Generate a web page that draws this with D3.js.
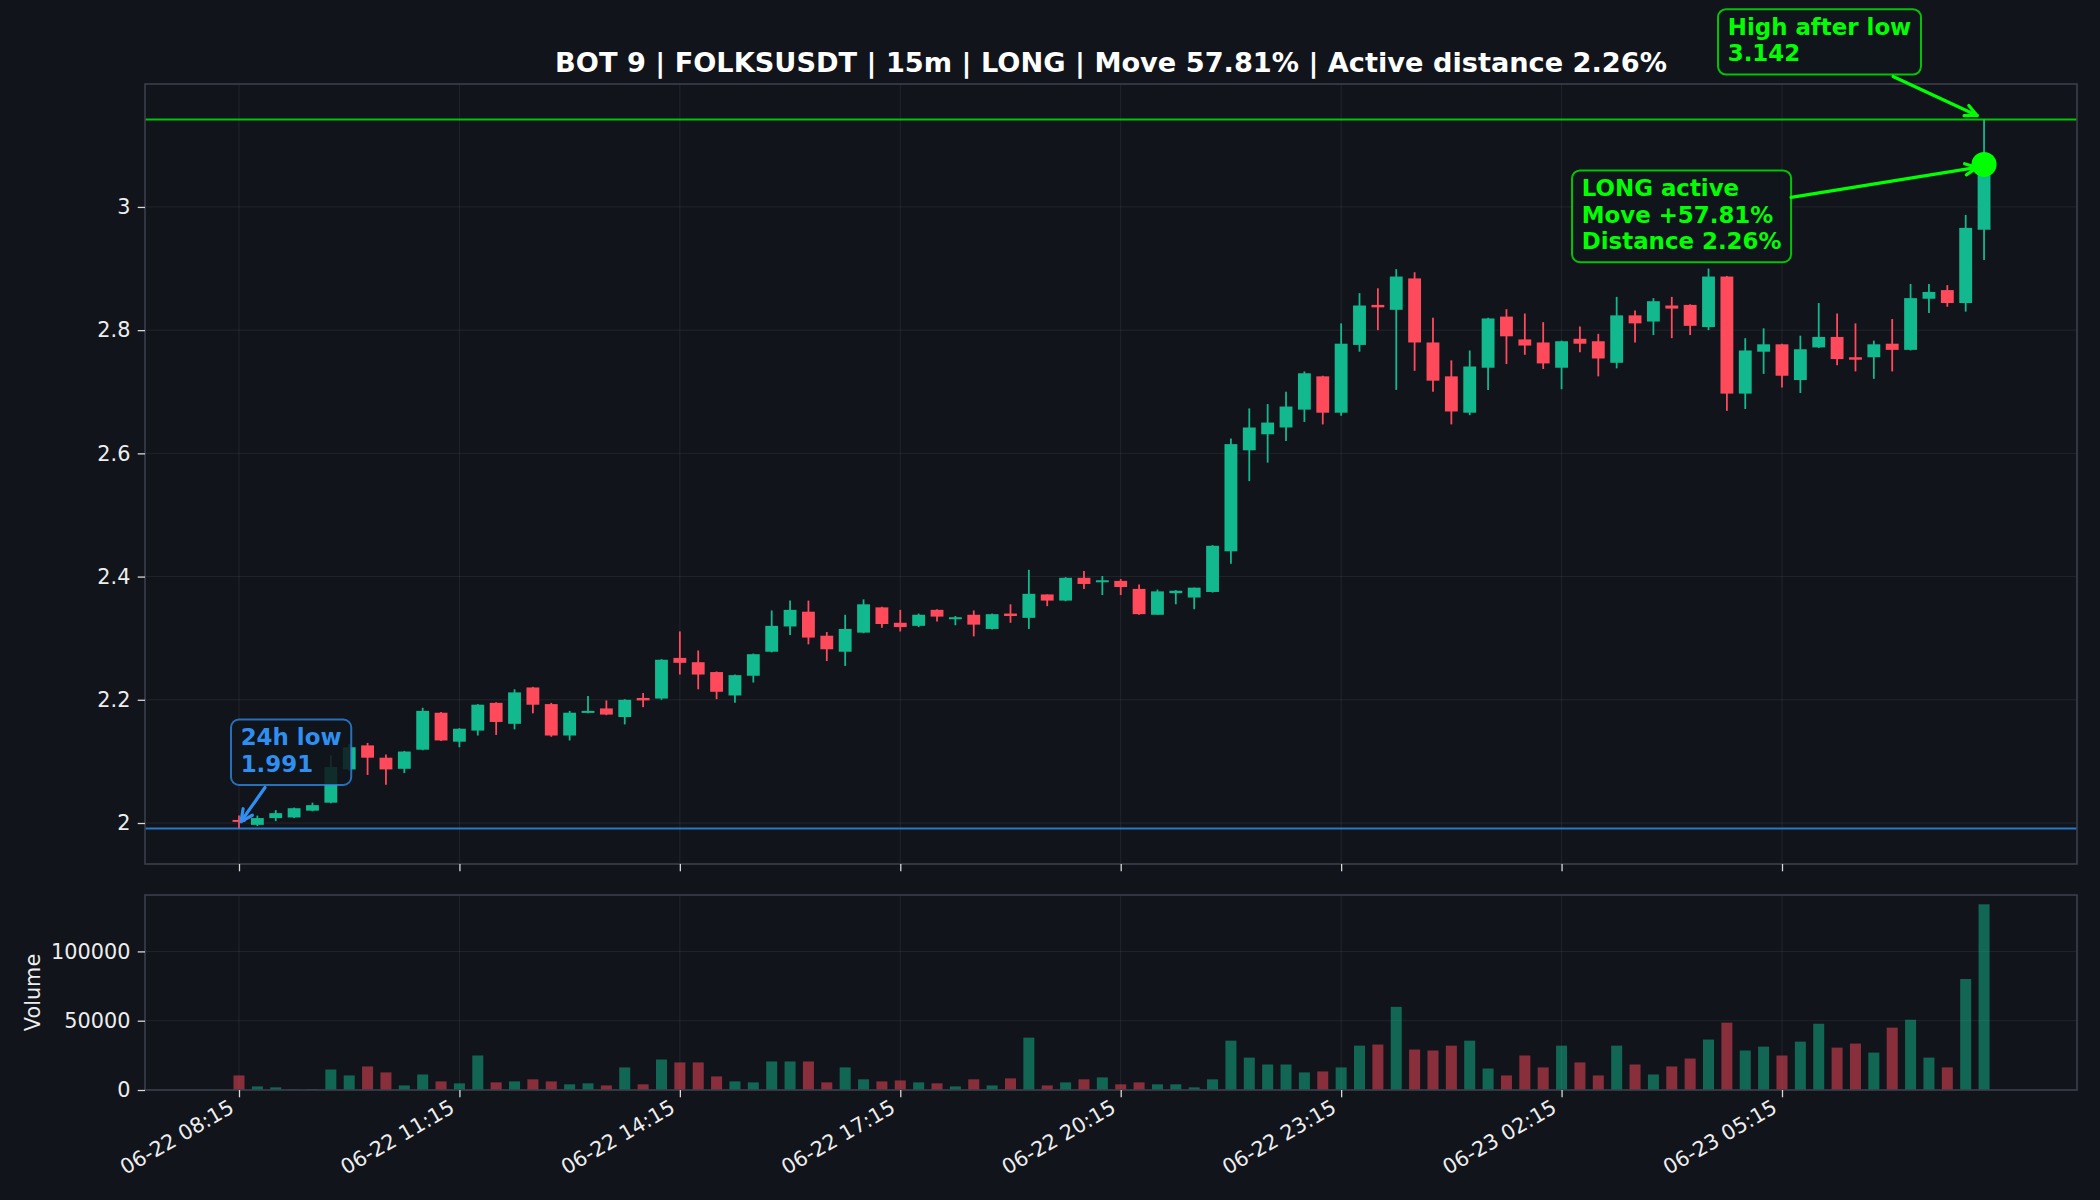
<!DOCTYPE html>
<html>
<head>
<meta charset="utf-8">
<script src="https://cdn.jsdelivr.net/npm/d3@7"></script>
<style>
  html, body { margin: 0; padding: 0; background: #11141b; }
  svg text { font-family: "DejaVu Sans", sans-serif; }
</style>
</head>
<body>
<svg id="chart"></svg>
<script>
// 15m candles, 06-22 08:15 -> 06-23 08:00
const opens  = [2.005,1.997,2.008,2.009,2.020,2.033,2.087,2.126,2.106,2.088,2.119,2.179,2.132,2.150,2.195,2.161,2.220,2.193,2.142,2.180,
                2.186,2.172,2.203,2.202,2.268,2.261,2.245,2.207,2.239,2.278,2.319,2.343,2.304,2.278,2.309,2.350,2.325,2.320,2.346,2.332,
                2.338,2.315,2.340,2.333,2.371,2.361,2.398,2.392,2.393,2.380,2.338,2.373,2.366,2.375,2.441,2.605,2.631,2.642,2.671,2.725,
                2.666,2.776,2.841,2.833,2.884,2.780,2.725,2.666,2.739,2.822,2.785,2.780,2.739,2.786,2.782,2.747,2.824,2.814,2.840,2.841,
                2.805,2.887,2.697,2.765,2.777,2.719,2.772,2.789,2.756,2.756,2.778,2.768,2.851,2.865,2.844,2.963];
const highs  = [2.012,2.012,2.021,2.025,2.033,2.110,2.128,2.130,2.111,2.117,2.187,2.180,2.154,2.193,2.196,2.217,2.221,2.195,2.182,2.206,
                2.199,2.201,2.211,2.266,2.311,2.280,2.246,2.241,2.275,2.345,2.361,2.361,2.310,2.338,2.363,2.351,2.346,2.340,2.347,2.336,
                2.345,2.340,2.355,2.411,2.371,2.399,2.409,2.401,2.396,2.387,2.379,2.378,2.382,2.451,2.624,2.673,2.680,2.700,2.733,2.726,
                2.811,2.860,2.868,2.899,2.894,2.820,2.751,2.767,2.820,2.834,2.827,2.813,2.783,2.806,2.794,2.854,2.832,2.852,2.854,2.842,
                2.900,2.888,2.787,2.803,2.778,2.791,2.844,2.827,2.811,2.783,2.818,2.875,2.875,2.873,2.987,3.142];
const lows   = [1.991,1.995,2.003,2.008,2.019,2.032,2.085,2.078,2.062,2.081,2.118,2.133,2.123,2.142,2.143,2.152,2.178,2.140,2.134,2.178,
                2.175,2.160,2.188,2.200,2.241,2.217,2.201,2.195,2.228,2.277,2.305,2.290,2.263,2.255,2.308,2.317,2.311,2.318,2.327,2.321,
                2.303,2.314,2.325,2.315,2.352,2.360,2.380,2.370,2.370,2.338,2.338,2.355,2.347,2.374,2.421,2.555,2.585,2.620,2.651,2.647,
                2.661,2.765,2.800,2.703,2.734,2.700,2.647,2.662,2.703,2.745,2.760,2.737,2.704,2.764,2.725,2.738,2.780,2.792,2.787,2.792,
                2.800,2.669,2.672,2.729,2.707,2.698,2.771,2.743,2.733,2.721,2.733,2.767,2.828,2.838,2.830,2.914];
const closes = [2.003,2.008,2.016,2.024,2.029,2.091,2.123,2.106,2.087,2.116,2.182,2.134,2.153,2.192,2.164,2.212,2.192,2.142,2.179,2.182,
                2.176,2.200,2.199,2.265,2.260,2.241,2.213,2.240,2.274,2.320,2.346,2.301,2.282,2.315,2.355,2.323,2.318,2.338,2.335,2.334,
                2.322,2.339,2.336,2.372,2.361,2.398,2.388,2.394,2.383,2.339,2.376,2.377,2.382,2.450,2.615,2.642,2.650,2.676,2.730,2.666,
                2.778,2.840,2.837,2.887,2.780,2.718,2.668,2.741,2.819,2.790,2.775,2.746,2.782,2.778,2.754,2.824,2.811,2.847,2.835,2.807,
                2.887,2.697,2.767,2.777,2.726,2.769,2.789,2.753,2.752,2.777,2.768,2.852,2.862,2.844,2.966,3.069];
const volumes = [10500,2600,1900,300,500,14800,10500,17000,12700,3300,11200,6200,4800,24900,5500,6200,7700,6200,4100,4800,
                 3300,16300,4100,22000,19900,19900,9800,6200,5500,20600,20600,20600,5500,16300,7700,6200,6900,5500,4800,2600,
                 7700,3300,8400,37800,3300,5500,7700,9100,4100,5500,4100,4100,1900,7700,35600,23400,18400,18400,12700,13400,
                 16300,32000,32800,60000,29200,28500,32000,35600,15500,10500,24900,16300,32000,19900,10500,32000,18400,11200,17000,22700,
                 36400,48600,28500,31300,24900,34900,47800,30600,33500,27000,45000,50700,23400,16300,80100,134000];

const xTickIndex  = [0, 12, 24, 36, 48, 60, 72, 84];
const xTickLabels = ["06-22 08:15","06-22 11:15","06-22 14:15","06-22 17:15","06-22 20:15","06-22 23:15","06-23 02:15","06-23 05:15"];
const priceTicks  = [2, 2.2, 2.4, 2.6, 2.8, 3];
const volumeTicks = [0, 50000, 100000];

const lowValue   = 1.991;
const highValue  = 3.142;
const lastPrice  = 3.069;
const titleText  = "BOT 9 | FOLKSUSDT | 15m | LONG | Move 57.81% | Active distance 2.26%";
const lowLabel   = ["24h low", "1.991"];
const highLabel  = ["High after low", "3.142"];
const activeLabel = ["LONG active", "Move +57.81%", "Distance 2.26%"];

const width = 2100, height = 1200;
const bg = "#11141b";
const up = "#12b88e", down = "#ff4a5c";
const lime = "#00ff00", blue = "#2f8ff0";

const plotLeft = 145, plotRight = 2077;
const priceTop = 84, priceBottom = 864;
const volTop = 895, volBottom = 1090;

const svg = d3.select("#chart").attr("width", width).attr("height", height);
svg.append("rect").attr("width", width).attr("height", height).attr("fill", bg);

const x = d3.scaleLinear().domain([-5.117, 100.06]).range([plotLeft, plotRight]);
const pad = 0.05 * (highValue - lowValue);
const y = d3.scaleLinear().domain([lowValue - pad, highValue + pad]).range([priceBottom, priceTop]);
const yv = d3.scaleLinear().domain([0, d3.max(volumes) * 1.05]).range([volBottom, volTop]);

const step = x(1) - x(0);
const candles = opens.map((o, i) => ({i, o, h: highs[i], l: lows[i], c: closes[i], v: volumes[i]}));
const col = d => d.c >= d.o ? up : down;

// grids
function grid(g, yScale, yTicks, top, bottom) {
  g.selectAll(".gx").data(xTickIndex).enter().append("line")
    .attr("x1", d => x(d)).attr("x2", d => x(d)).attr("y1", top).attr("y2", bottom)
    .attr("stroke", "#ffffff").attr("stroke-opacity", 0.07).attr("stroke-width", 1);
  g.selectAll(".gy").data(yTicks).enter().append("line")
    .attr("x1", plotLeft).attr("x2", plotRight).attr("y1", d => yScale(d)).attr("y2", d => yScale(d))
    .attr("stroke", "#ffffff").attr("stroke-opacity", 0.07).attr("stroke-width", 1);
}
grid(svg.append("g"), y, priceTicks, priceTop, priceBottom);
grid(svg.append("g"), yv, volumeTicks, volTop, volBottom);

// price clip
svg.append("clipPath").attr("id", "pclip").append("rect")
  .attr("x", plotLeft).attr("y", priceTop).attr("width", plotRight - plotLeft).attr("height", priceBottom - priceTop);

const cg = svg.append("g").attr("clip-path", "url(#pclip)");
cg.selectAll(".wick").data(candles).enter().append("line")
  .attr("x1", d => x(d.i)).attr("x2", d => x(d.i))
  .attr("y1", d => y(d.h)).attr("y2", d => y(d.l))
  .attr("stroke", col).attr("stroke-width", 1.8);
cg.selectAll(".body").data(candles).enter().append("rect")
  .attr("x", d => x(d.i) - step * 0.35)
  .attr("width", step * 0.7)
  .attr("y", d => Math.min(y(d.o), y(d.c)))
  .attr("height", d => Math.max(Math.abs(y(d.o) - y(d.c)), 2))
  .attr("fill", col);

// reference lines
cg.append("line").attr("x1", plotLeft).attr("x2", plotRight)
  .attr("y1", y(highValue)).attr("y2", y(highValue))
  .attr("stroke", lime).attr("stroke-opacity", 0.75).attr("stroke-width", 2);
cg.append("line").attr("x1", plotLeft).attr("x2", plotRight)
  .attr("y1", y(lowValue)).attr("y2", y(lowValue))
  .attr("stroke", blue).attr("stroke-opacity", 0.8).attr("stroke-width", 2);

// volume bars
svg.append("g").selectAll("rect").data(candles).enter().append("rect")
  .attr("x", d => x(d.i) - step * 0.3)
  .attr("width", step * 0.6)
  .attr("y", d => yv(d.v))
  .attr("height", d => volBottom - yv(d.v))
  .attr("fill", col).attr("fill-opacity", 0.5);

// spines
[[priceTop, priceBottom], [volTop, volBottom]].forEach(([t, b]) => {
  svg.append("rect").attr("x", plotLeft).attr("y", t)
    .attr("width", plotRight - plotLeft).attr("height", b - t)
    .attr("fill", "none").attr("stroke", "#3a3f4a").attr("stroke-width", 1.6);
});

// axes
function styleAxis(g) {
  g.select(".domain").remove();
  g.selectAll(".tick line").attr("stroke", "#d8d8d8").attr("stroke-width", 1.3);
  g.selectAll(".tick text").attr("fill", "#eeeeee").style("font-size", "20.8px");
}
svg.append("g").attr("transform", `translate(${plotLeft},0)`)
  .call(d3.axisLeft(y).tickValues(priceTicks).tickFormat(d3.format("~g")).tickSize(7.3).tickPadding(7.3))
  .call(styleAxis);
svg.append("g").attr("transform", `translate(${plotLeft},0)`)
  .call(d3.axisLeft(yv).tickValues(volumeTicks).tickFormat(d => String(d)).tickSize(7.3).tickPadding(7.3))
  .call(styleAxis);
svg.append("g").attr("transform", `translate(0,${priceBottom})`)
  .call(d3.axisBottom(x).tickValues(xTickIndex).tickFormat("").tickSize(7.3))
  .call(styleAxis);
const xa = svg.append("g").attr("transform", `translate(0,${volBottom})`)
  .call(d3.axisBottom(x).tickValues(xTickIndex).tickFormat("").tickSize(7.3))
  .call(styleAxis);
xa.selectAll(".tick").append("text")
  .attr("transform", "translate(-4,21.5) rotate(-30)")
  .attr("text-anchor", "end")
  .attr("fill", "#eeeeee").style("font-size", "20.8px")
  .text((d, i) => xTickLabels[i]);

svg.append("text")
  .attr("transform", `translate(40,${(volTop + volBottom) / 2}) rotate(-90)`)
  .attr("text-anchor", "middle").attr("fill", "#eeeeee").style("font-size", "20.8px")
  .text("Volume");

// title
svg.append("text").attr("x", (plotLeft + plotRight) / 2).attr("y", 71.5)
  .attr("text-anchor", "middle").attr("fill", "#ffffff")
  .style("font-size", "27.2px").style("font-weight", "bold")
  .text(titleText);

// current price marker
const lastX = x(opens.length - 1);
svg.append("circle").attr("cx", lastX).attr("cy", y(lastPrice)).attr("r", 12.5).attr("fill", lime);

// annotations
function arrow(x1, y1, x2, y2, color) {
  const g = svg.append("g").attr("stroke", color).attr("stroke-width", 3.2).attr("fill", "none")
    .attr("stroke-linecap", "round");
  g.append("line").attr("x1", x1).attr("y1", y1).attr("x2", x2).attr("y2", y2);
  const a = Math.atan2(y2 - y1, x2 - x1), len = 13;
  [0.45, -0.45].forEach(s => {
    g.append("line").attr("x1", x2).attr("y1", y2)
      .attr("x2", x2 - len * Math.cos(a + s)).attr("y2", y2 - len * Math.sin(a + s));
  });
}
function label(left, top, lines, color) {
  const g = svg.append("g");
  const rect = g.append("rect");
  const t = g.append("text").attr("fill", color)
    .style("font-size", "22.9px").style("font-weight", "bold");
  lines.forEach((s, k) => t.append("tspan").attr("x", left + 9.7).attr("y", top + 25.7 + k * 26.4).text(s));
  const w = d3.max(t.selectAll("tspan").nodes(), n => n.getComputedTextLength());
  rect.attr("x", left).attr("y", top).attr("width", w + 19.4).attr("height", lines.length * 26.4 + 12.6)
    .attr("rx", 8).attr("fill", bg).attr("fill-opacity", 0.85)
    .attr("stroke", color).attr("stroke-opacity", 0.75).attr("stroke-width", 2);
}

const lowPt = [x(0), y(lowValue)];
label(lowPt[0] - 8, lowPt[1] - 109, lowLabel, blue);
arrow(lowPt[0] + 26, lowPt[1] - 41, lowPt[0] + 2, lowPt[1] - 7, blue);

const highPt = [lastX, y(highValue)];
label(highPt[0] - 266, highPt[1] - 110.3, highLabel, lime);
arrow(highPt[0] - 91, highPt[1] - 43, highPt[0] - 7, highPt[1] - 4, lime);

const dotPt = [lastX, y(lastPrice)];
label(dotPt[0] - 412, dotPt[1] + 6, activeLabel, lime);
arrow(dotPt[0] - 193, dotPt[1] + 33, dotPt[0] - 7, dotPt[1] + 3, lime);
</script>
</body>
</html>
